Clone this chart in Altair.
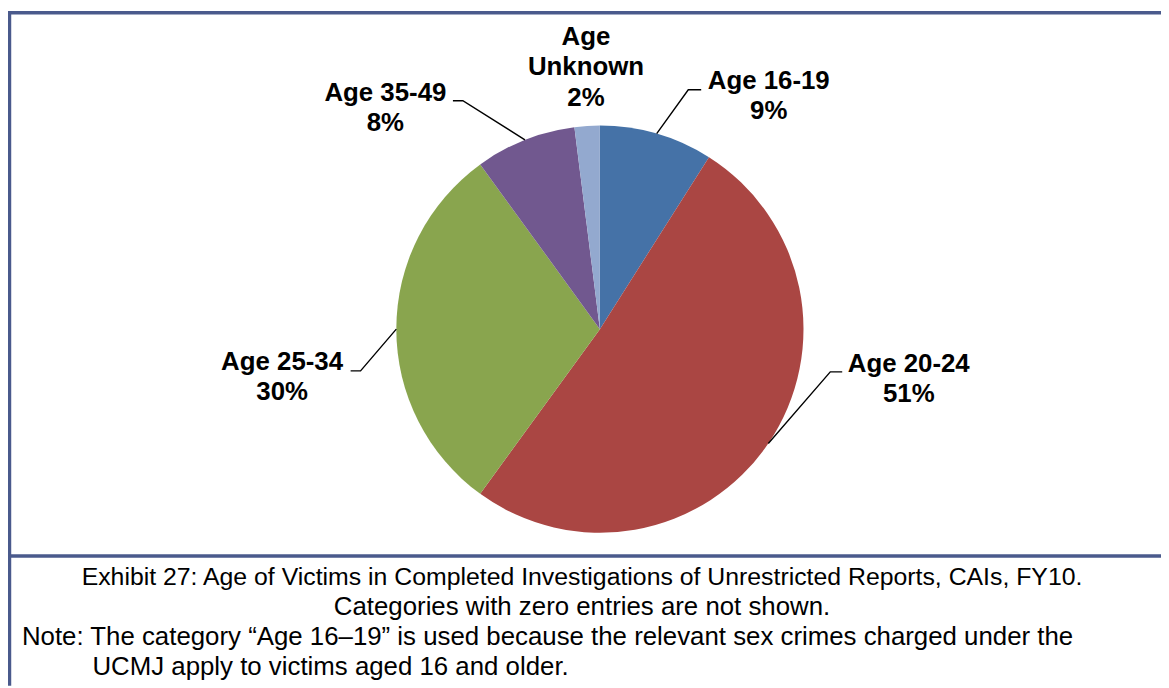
import altair as alt
import pandas as pd
import math

# ---------------- data ----------------
categories = ["Age 16-19", "Age 20-24", "Age 25-34", "Age 35-49", "Age Unknown"]
percents = [9, 51, 30, 8, 2]
label_names = ["Age 16-19", "Age 20-24", "Age 25-34", "Age 35-49", "Age\nUnknown"]
colors = ["#4572A7", "#AA4643", "#89A54E", "#71588F", "#93A9CF"]

caption_centered = [
    "Exhibit 27: Age of Victims in Completed Investigations of Unrestricted Reports, CAIs, FY10.",
    "Categories with zero entries are not shown.",
]
caption_note = [
    "Note: The category \u201cAge 16\u201319\u201d is used because the relevant sex crimes charged under the",
    "UCMJ apply to victims aged 16 and older.",
]

# ---------------- layout (pixels) ----------------
W, H = 1161, 680
CX, CY, R = 596, 321, 205
FONT = "Liberation Sans"
FRAME = "#4A5A8C"

# label anchor (tx, ty) and leader elbow (ex, ey) relative to the pie centre, hook = horizontal tick
LABEL_LAYOUT = {
    "Age 16-19": dict(tx=170, ty=-242, ex=89, ey=-241, hook=13),
    "Age 20-24": dict(tx=311, ty=43, ex=232, ey=43, hook=12),
    "Age 25-34": dict(tx=-320, ty=41, ex=-241, ey=42, hook=-10),
    "Age 35-49": dict(tx=-216, ty=-230, ex=-138, ey=-230, hook=-10),
    "Age Unknown": dict(tx=-14, ty=-286, ex=None, ey=None, hook=0),
}

df = pd.DataFrame({
    "cat": categories,
    "value": percents,
    "idx": list(range(len(categories))),
    "label": [f"{n}\n{p}%" for n, p in zip(label_names, percents)],
})
total = sum(percents)
cum = 0
mids = []
for v in percents:
    mids.append((cum + v / 2) / total * 2 * math.pi)
    cum += v
df["mid"] = mids
df["lx"] = [CX + LABEL_LAYOUT[c]["tx"] for c in categories]
df["ly"] = [CY + LABEL_LAYOUT[c]["ty"] for c in categories]

rows = []
for c, a in zip(categories, mids):
    L = LABEL_LAYOUT[c]
    if L["ex"] is None:
        continue
    rows.append(dict(cat=c, step=0, x=CX + R * math.sin(a), y=CY - R * math.cos(a)))
    rows.append(dict(cat=c, step=1, x=CX + L["ex"], y=CY + L["ey"]))
    rows.append(dict(cat=c, step=2, x=CX + L["ex"] + L["hook"], y=CY + L["ey"]))
leaders = pd.DataFrame(rows)

xs = alt.Scale(domain=[0, W], nice=False, zero=False)
ys = alt.Scale(domain=[H, 0], nice=False, zero=False)

pie = alt.Chart(df).mark_arc(outerRadius=R).encode(
    theta=alt.Theta("value:Q", stack=True),
    order=alt.Order("idx:Q"),
    color=alt.Color("cat:N", scale=alt.Scale(domain=categories, range=colors), legend=None),
    x=alt.value(CX),
    y=alt.value(CY),
)

lines = alt.Chart(leaders).mark_line(color="black", strokeWidth=1.4).encode(
    x=alt.X("x:Q", scale=xs, axis=None),
    y=alt.Y("y:Q", scale=ys, axis=None),
    detail="cat:N",
    order="step:Q",
)

labels = alt.Chart(df).mark_text(
    font=FONT, fontSize=26, fontWeight="bold", color="black",
    align="center", baseline="alphabetic", lineBreak="\n", lineHeight=30.5,
).encode(
    x=alt.X("lx:Q", scale=xs, axis=None),
    y=alt.Y("ly:Q", scale=ys, axis=None),
    text="label:N",
)

frame_top = alt.Chart(pd.DataFrame({"a": [0]})).mark_rule(color=FRAME, strokeWidth=3.5).encode(
    x=alt.value(0), x2=alt.value(W), y=alt.value(2.5)
)
frame_sep = alt.Chart(pd.DataFrame({"a": [0]})).mark_rule(color=FRAME, strokeWidth=3.5).encode(
    x=alt.value(0), x2=alt.value(W), y=alt.value(549.5)
)
frame_left = alt.Chart(pd.DataFrame({"a": [0]})).mark_rule(color=FRAME, strokeWidth=3.5).encode(
    x=alt.value(1.5), y=alt.value(1), y2=alt.value(H)
)

def cap(text, x, y, align, size):
    return alt.Chart(pd.DataFrame({"t": [text]})).mark_text(
        font=FONT, fontSize=size, color="black", align=align, baseline="alphabetic"
    ).encode(x=alt.value(x), y=alt.value(y), text="t:N")

caps = [
    cap(caption_centered[0], 578, 579, "center", 25),
    cap(caption_centered[1], 578, 609, "center", 26),
    cap(caption_note[0], 14, 639, "left", 26),
    cap(caption_note[1], 85, 669, "left", 26),
]

chart = alt.layer(pie, lines, labels, frame_top, frame_sep, frame_left, *caps).properties(
    width=W, height=H, autosize=alt.AutoSizeParams(type="none"), padding=0, background="white"
).configure_view(stroke=None)

chart.save("out.html", embed_options={"renderer": "svg", "actions": False})
